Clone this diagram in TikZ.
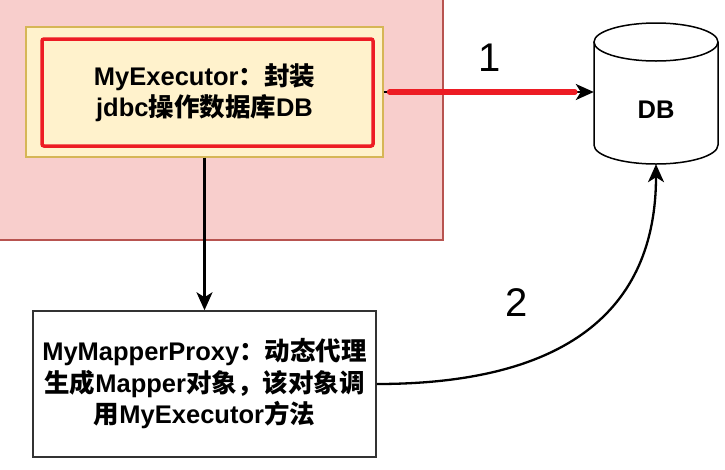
\documentclass[tikz,border=0pt]{standalone}
\usepackage{fontspec}
\setmainfont{Liberation Sans}
\newfontfamily\cjk{Noto Sans CJK SC}
\usetikzlibrary{arrows.meta}
\definecolor{pinkfill}{HTML}{F8CECC}
\definecolor{pinkline}{HTML}{B85450}
\definecolor{yelfill}{HTML}{FFF2CC}
\definecolor{yelline}{HTML}{D6B656}
\definecolor{redline}{RGB}{237,28,36}
\definecolor{greyline}{HTML}{333333}
\newcommand{\zh}[1]{{\cjk #1}}
\begin{document}
\begin{tikzpicture}[x=1pt,y=-1pt,
  txt/.style={font=\bfseries\fontsize{25.5}{31.5}\selectfont, align=center, text=black},
  arr/.style={draw=black, line width=2.3pt, -{Stealth[length=18pt,width=16pt,inset=5pt]}},
  num/.style={font=\fontsize{40}{48}\selectfont, text=black}]
\useasboundingbox (0,0) rectangle (725,469);
% container
\fill[pinkfill] (0,0) rectangle (443,240);
\draw[pinkline, line width=1.2pt] (0,240) -- (443,240) -- (443,0);
% executor
\node[draw=yelline, fill=yelfill, line width=1.2pt, minimum width=357pt, minimum height=130pt, inner sep=0pt] (exo) at (204.5,92) {};
\node[draw=redline, fill=yelfill, line width=3.5pt, rounded corners=2pt, minimum width=331pt, minimum height=107pt, inner sep=0pt] (exr) at (207.5,92.5) {};
\node[txt] (exe) at (204.5,92.5) {MyExecutor\zh{：封装}\\jdbc\zh{操作数据库}DB};
% DB cylinder
\draw[line width=1.5pt, fill=white] (594,42) -- (594,145) arc[start angle=180, end angle=0, x radius=62, y radius=19] -- (718,42);
\draw[line width=1.5pt, fill=white] (656,42) ellipse[x radius=62, y radius=19];
\node[minimum width=124pt, minimum height=141pt, inner sep=0pt] (db) at (656,93.5) {};
\node[txt] (dbt) at (656,110) {DB};
% proxy
\node[draw=greyline, line width=1.5pt, fill=white, minimum width=343pt, minimum height=146pt, inner sep=0pt, txt] (prx) at (204.5,384) {MyMapperProxy\zh{：动态代理}\\\zh{生成}Mapper\zh{对象，该对象调}\\\zh{用}MyExecutor\zh{方法}};
% connectors
\draw[arr] (exo.south) -- (prx.north);
\draw[arr] (exo.east) -- (exo.east -| db.west);
\draw[redline, line width=5.5pt, line cap=round] ([xshift=6pt]exo.east) -- ([xshift=-19pt]exo.east -| db.west);
\draw[arr] (prx.east) .. controls +(188,0) and +(0,147) .. (db.south);
% labels
\node[num] (n1) at (490,58) {1};
\node[num] (n2) at (517,303) {2};
\end{tikzpicture}
\end{document}
